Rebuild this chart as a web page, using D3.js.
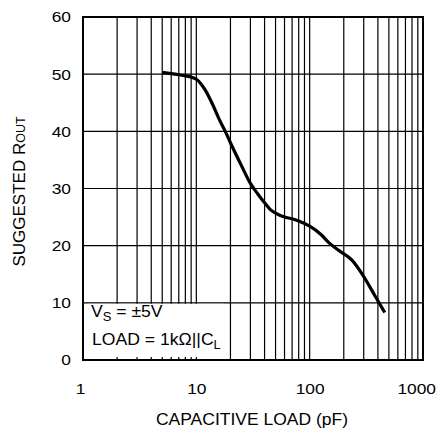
<!DOCTYPE html>
<html>
<head>
<meta charset="utf-8">
<script src="https://cdn.jsdelivr.net/npm/d3@7"></script>
<style>
  body { margin: 0; background: #fff; }
  svg text { font-family: "Liberation Sans", Arial, sans-serif; fill: #000; }
</style>
</head>
<body>
<svg id="chart" width="436" height="428"></svg>
<script>
// capacitive load (pF) vs suggested Rout
var loadPf = [5, 6, 7, 8, 9, 10, 11, 12, 14, 16, 18, 20, 25, 30, 35, 40, 45, 50, 60, 70, 80, 100, 125, 150, 180, 235, 300, 380, 460];
var rOut   = [50.3, 50.1, 49.9, 49.7, 49.5, 49.1, 48.3, 47.2, 44.6, 42.0, 40.0, 38.0, 34.0, 30.9, 29.0, 27.5, 26.3, 25.7, 25.0, 24.7, 24.3, 23.4, 22.0, 20.4, 19.2, 17.5, 14.6, 11.1, 8.3];
var xTicks = [1, 10, 100, 1000];
var yTicks = [0, 10, 20, 30, 40, 50, 60];

var svg = d3.select('#chart'),
    m = { left: 83, right: 423, top: 17, bottom: 360 },
    sx = 1.12; // the original art is a little wide, stretch tick text to match

var x = d3.scaleLog().domain([1, 1000]).range([m.left, m.right]);
var y = d3.scaleLinear().domain([0, 60]).range([m.bottom, m.top]);

// every minor decade line 1..9 x 10^n
var gridX = [];
[1, 10, 100].forEach(function( d ){
    for ( var k = 1; k < 10; k++ ){ gridX.push( d * k ); }
});
gridX.push( 1000 );

var grid = svg.append('g').attr('class', 'grid');
grid.selectAll('line.v')
    .data( gridX )
    .enter().append('line')
    .attr('x1', x).attr('x2', x)
    .attr('y1', m.top).attr('y2', m.bottom)
    .attr('stroke', '#000').attr('stroke-width', 1.2);

grid.selectAll('line.h')
    .data( yTicks )
    .enter().append('line')
    .attr('x1', m.left).attr('x2', m.right)
    .attr('y1', y).attr('y2', y)
    .attr('stroke', '#000').attr('stroke-width', 1.2);

// legend box blanks the grid behind it
svg.append('rect')
    .attr('x', x(1.1)).attr('y', y(10) + 1)
    .attr('width', x(17.5) - x(1.1))
    .attr('height', y(0) - y(10) - 4)
    .attr('fill', '#fff');

// frame
svg.append('rect')
    .attr('x', m.left).attr('y', m.top)
    .attr('width', m.right - m.left).attr('height', m.bottom - m.top)
    .attr('fill', 'none').attr('stroke', '#000').attr('stroke-width', 2);

// axes (labels only, the frame draws the lines)
var yAxis = d3.axisLeft( y ).tickValues( yTicks ).tickSize( 0 ).tickPadding( 12 / sx );
svg.append('g').attr('transform', 'translate(' + m.left + ',0)').call( yAxis )
    .call(function( g ){ g.select('.domain').remove(); })
    .selectAll('text')
    .attr('font-family', null)
    .style('font-size', '15.5px')
    .attr('transform', 'scale(' + sx + ',1)');

var xAxis = d3.axisBottom( x ).tickValues( xTicks ).tickFormat( d3.format('d') ).tickSize( 0 ).tickPadding( 23 );
var xg = svg.append('g').attr('transform', 'translate(0,' + m.bottom + ')').call( xAxis )
    .call(function( g ){ g.select('.domain').remove(); });
xg.selectAll('text')
    .attr('font-family', null)
    .style('font-size', '15.5px')
    .attr('transform', 'scale(' + sx + ',1)');
// last label sits against the right edge like the original
xg.selectAll('.tick text')
    .filter(function( d ){ return d === 1000; })
    .attr('text-anchor', 'end')
    .attr('x', 12.5 / sx);
xg.selectAll('.tick text')
    .filter(function( d ){ return d === 1; })
    .attr('x', -3 / sx);

// curve
var line = d3.line()
    .x(function( d, i ){ return x( loadPf[i] ); })
    .y(function( d ){ return y( d ); })
    .curve( d3.curveMonotoneX );

svg.append('path')
    .attr('d', line( rOut ))
    .attr('fill', 'none')
    .attr('stroke', '#000')
    .attr('stroke-width', 3.2)
    .attr('stroke-linejoin', 'round');

// legend text
var leg = svg.append('g')
    .attr('transform', 'translate(91,0) scale(1.08,1)')
    .style('font-size', '16.3px');
var t1 = leg.append('text').attr('x', 0).attr('y', 317);
t1.append('tspan').text('V');
t1.append('tspan').attr('dy', 4).style('font-size', '12px').text('S');
t1.append('tspan').attr('dy', -4).text(' = ±5V');

var t2 = leg.append('text').attr('x', 1).attr('y', 345);
t2.append('tspan').text('LOAD = 1kΩ||C');
t2.append('tspan').attr('dy', 4).style('font-size', '12px').text('L');

// axis titles
svg.append('text')
    .attr('transform', 'translate(' + ((m.left + m.right) / 2 - 1) + ',424.5) scale(1.03,1)')
    .attr('text-anchor', 'middle')
    .style('font-size', '17px')
    .text('CAPACITIVE LOAD (pF)');

var yt = svg.append('text')
    .attr('transform', 'translate(25,191.5) rotate(-90)')
    .attr('text-anchor', 'middle')
    .style('font-size', '17px');
yt.append('tspan').text('SUGGESTED R');
yt.append('tspan').style('font-size', '12.5px').text('OUT');
</script>
</body>
</html>
